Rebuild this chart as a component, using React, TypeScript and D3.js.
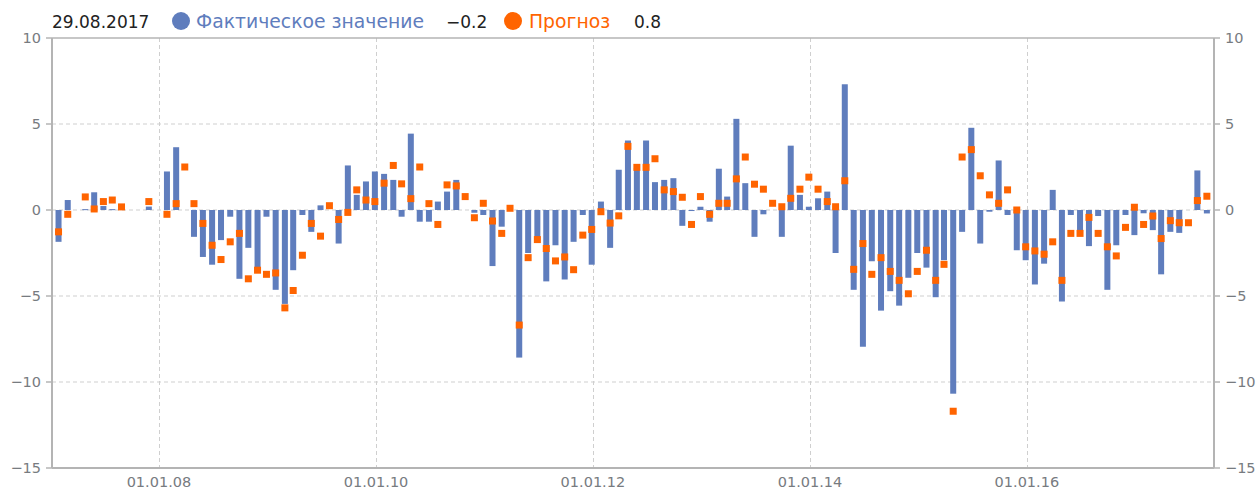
import React from "react";
import * as d3 from "d3";

// Monthly releases, starting January 2007 (last one: 29.08.2017)
const startYear = 2007;
const actual: (number | null)[] = [
  -1.85, 0.58, null, 0.05, 1.03, 0.23, 0.05, null, null, null, 0.2, null,
  2.24, 3.65, null, -1.56, -2.73, -3.18, -1.75, -0.39, -4.0, -2.2, -3.6, -0.39,
  -4.64, -5.46, -3.5, -0.29, -1.27, 0.27, null, -1.95, 2.59, 0.88, 1.66, 2.24,
  2.1, 1.75, -0.39, 4.44, -0.68, -0.68, 0.49, 1.07, 1.75, null, -0.16, -0.29,
  -3.26, -0.97, null, -8.58, -2.5, -1.75, -4.15, -2.05, -4.04, -1.85, -0.29, -3.18,
  0.49, -2.2, 2.34, 4.04, 2.44, 4.04, 1.62, 1.75, 1.85, -0.92, -0.06, 0.19,
  -0.68, 2.4, 0.78, 5.3, 1.56, -1.56, -0.25, null, -1.56, 3.74, 0.88, 0.19,
  0.68, 1.07, -2.5, 7.31, -4.64, -7.95, -2.98, -5.85, -4.72, -5.56, -3.94, -2.5,
  -3.35, -5.07, -2.92, -10.68, -1.27, 4.78, -1.95, -0.1, 2.88, -0.29, -2.34, -2.92,
  -4.33, -3.12, 1.17, -5.32, -0.29, -1.27, -2.1, -0.35, -4.64, -2.05, -0.29, -1.46,
  -0.19, -1.17, -3.74, -1.27, -1.33, null, 2.3, -0.2,
];
const forecast: (number | null)[] = [
  -1.27, -0.25, null, 0.76, 0.06, 0.49, 0.58, 0.18, null, null, 0.49, null,
  -0.25, 0.37, 2.5, 0.37, -0.78, -2.05, -2.88, -1.85, -1.36, -4.0, -3.5, -3.74,
  -3.66, -5.69, -4.68, -2.63, -0.78, -1.52, 0.25, -0.55, -0.14, 1.17, 0.58, 0.49,
  1.56, 2.59, 1.52, 0.66, 2.5, 0.37, -0.84, 1.46, 1.4, 0.78, -0.45, 0.39,
  -0.64, -1.36, 0.1, -6.69, -2.77, -1.72, -2.24, -2.96, -2.73, -3.47, -1.46, -1.13,
  -0.1, -0.76, -0.34, 3.7, 2.48, 2.48, 2.98, 1.17, 1.07, 0.74, -0.84, 0.78,
  -0.25, 0.39, 0.39, 1.81, 3.08, 1.5, 1.21, 0.39, 0.19, 0.68, 1.21, 1.91,
  1.21, 0.49, 0.19, 1.7, -3.45, -1.95, -3.74, -2.77, -3.57, -4.09, -4.87, -3.57,
  -2.34, -4.09, -3.16, -11.7, 3.08, 3.51, 1.99, 0.88, 0.39, 1.17, 0.0, -2.14,
  -2.38, -2.57, -1.85, -4.09, -1.36, -1.36, -0.43, -1.36, -2.14, -2.67, -1.01, 0.16,
  -0.84, -0.35, -1.66, -0.62, -0.74, -0.74, 0.55, 0.8,
];
const yTicks = [10, 5, 0, -5, -10, -15];
const xTickYears = [2008, 2010, 2012, 2014, 2016];
const legendDate = "29.08.2017";
const legendActualLabel = "Фактическое значение";
const legendActualValue = "−0.2";
const legendForecastLabel = "Прогноз";
const legendForecastValue = "0.8";

const W = 1259;
const H = 490;
const BLUE = "#5f7dbd";
const ORANGE = "#ff6400";
const GRID = "#cfcfcf";
const AXIS = "#b4b4b4";
const LABEL = "#777b80";
const FONT = "'DejaVu Sans', sans-serif";

const fmtTick = (v: number) => (v < 0 ? "\u2212" + Math.abs(v) : String(v));
const fmtDate = d3.timeFormat("%d.%m.%y");

export default function App() {
  const dates = actual.map((_, i) =>
    new Date(startYear, i, i === actual.length - 1 ? 29 : 28)
  );
  const x = d3
    .scaleTime()
    .domain([new Date(2007, 0, 6), new Date(2017, 8, 22)])
    .range([52, 1214]);
  const y = d3.scaleLinear().domain([-15, 10]).range([468, 38]);
  const barW = 6;
  const sq = 7;

  return (
    <svg
      width={W}
      height={H}
      style={{ position: "absolute", left: 0, top: 0, background: "#fff" }}
      fontFamily={FONT}
    >
      {/* horizontal grid */}
      {yTicks
        .filter((t) => t !== 10 && t !== -15)
        .map((t) => (
          <line
            key={"hg" + t}
            x1={x.range()[0]}
            x2={x.range()[1]}
            y1={y(t)}
            y2={y(t)}
            stroke={GRID}
            strokeDasharray="4,3"
          />
        ))}
      {/* vertical grid */}
      {xTickYears.map((yr) => {
        const xx = Math.round(x(new Date(yr, 0, 1))) + 0.5;
        return (
          <line
            key={"vg" + yr}
            x1={xx}
            x2={xx}
            y1={y(10)}
            y2={y(-15)}
            stroke={GRID}
            strokeDasharray="4,3"
          />
        );
      })}
      {/* bars */}
      {actual.map((v, i) =>
        v === null ? null : (
          <rect
            key={"b" + i}
            x={x(dates[i]) - barW / 2}
            y={Math.min(y(v), y(0))}
            width={barW}
            height={Math.max(1, Math.abs(y(v) - y(0)))}
            fill={BLUE}
          />
        )
      )}
      {/* forecast squares */}
      {forecast.map((v, i) =>
        v === null ? null : (
          <rect
            key={"f" + i}
            x={x(dates[i]) - sq / 2}
            y={y(v) - sq / 2}
            width={sq}
            height={sq}
            fill={ORANGE}
          />
        )
      )}
      {/* frame / axes */}
      <line x1={52} x2={1214} y1={38} y2={38} stroke={AXIS} strokeWidth={1.5} />
      <line x1={52} x2={1214} y1={468} y2={468} stroke={AXIS} strokeWidth={2} />
      <line x1={52} x2={52} y1={38} y2={468} stroke={AXIS} strokeWidth={2} />
      <line x1={1214} x2={1214} y1={38} y2={468} stroke={AXIS} strokeWidth={2} />
      {yTicks.map((t) => (
        <g key={"yt" + t}>
          <line x1={46} x2={52} y1={y(t)} y2={y(t)} stroke={AXIS} strokeWidth={1.5} />
          <line x1={1214} x2={1220} y1={y(t)} y2={y(t)} stroke={AXIS} strokeWidth={1.5} />
          <text
            x={41}
            y={y(t)}
            dy="0.36em"
            textAnchor="end"
            fontSize={14.5}
            fill={LABEL}
          >
            {fmtTick(t)}
          </text>
          <text x={1225} y={y(t)} dy="0.36em" fontSize={14.5} fill={LABEL}>
            {fmtTick(t)}
          </text>
        </g>
      ))}
      {xTickYears.map((yr) => {
        const d = new Date(yr, 0, 1);
        return (
          <text
            key={"xt" + yr}
            x={x(d)}
            y={487}
            textAnchor="middle"
            fontSize={14.5}
            fill={LABEL}
          >
            {fmtDate(d)}
          </text>
        );
      })}
      {/* legend */}
      <g>
        <text x={52} y={28} fill="#222" fontSize={17}>
          {legendDate}
        </text>
        <circle cx={181} cy={21} r={9} fill={BLUE} />
        <text x={196} y={28} fill={BLUE} fontSize={18.8}>
          {legendActualLabel}
        </text>
        <text x={446} y={28} fill="#222" fontSize={17}>
          {legendActualValue}
        </text>
        <circle cx={513} cy={21} r={9} fill={ORANGE} />
        <text x={529} y={28} fill={ORANGE} fontSize={18.8}>
          {legendForecastLabel}
        </text>
        <text x={634} y={28} fill="#222" fontSize={17}>
          {legendForecastValue}
        </text>
      </g>
    </svg>
  );
}
